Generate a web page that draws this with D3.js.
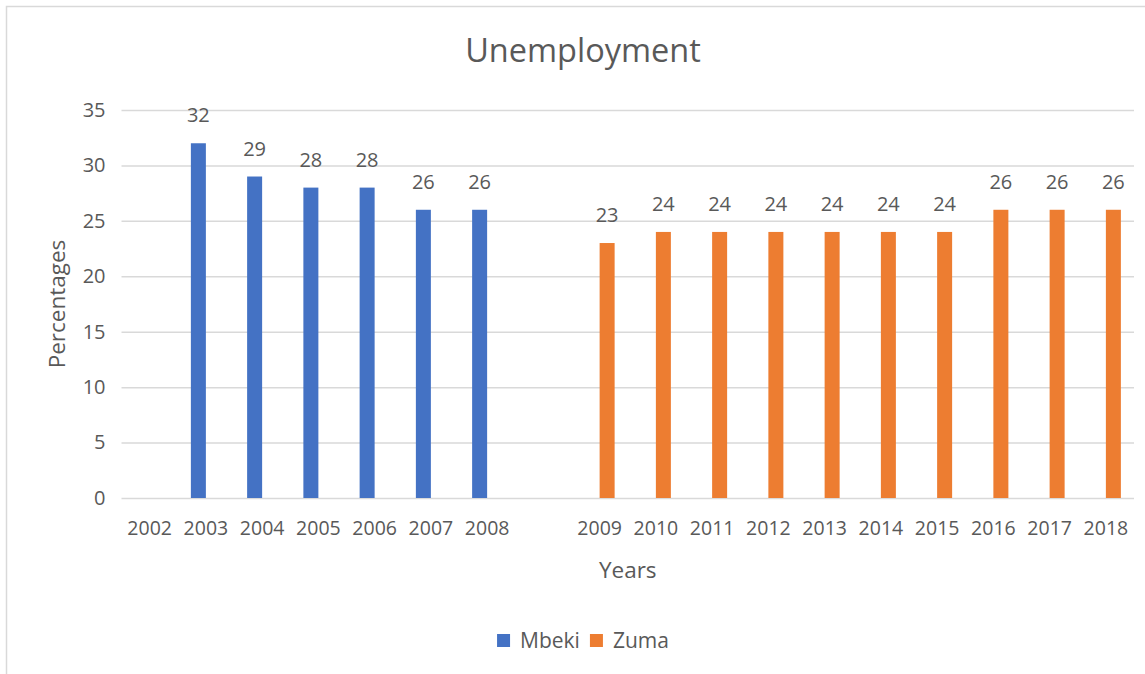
<!DOCTYPE html>
<html>
<head>
<meta charset="utf-8">
<script src="https://cdn.jsdelivr.net/npm/d3@7"></script>
<style>
  html, body { margin: 0; padding: 0; background: #ffffff; }
  svg { display: block; }
  text { font-family: "Open Sans", "Noto Sans", sans-serif; fill: #595959; }
</style>
</head>
<body>
<svg id="chart" width="1145" height="674"></svg>
<script>
// Categories along the x axis (an empty slot separates the two presidencies)
const categories = ["2002", "2003", "2004", "2005", "2006", "2007", "2008", "",
  "2009", "2010", "2011", "2012", "2013", "2014", "2015", "2016", "2017", "2018"];

// Unemployment rate (%) per year for each series
const mbekiValues = [null, 32, 29, 28, 28, 26, 26, null,
  null, null, null, null, null, null, null, null, null, null];
const zumaValues = [null, null, null, null, null, null, null, null,
  23, 24, 24, 24, 24, 24, 24, 26, 26, 26];

const seriesNames = ["Mbeki", "Zuma"];
const seriesColors = ["#4472C4", "#ED7D31"];
const yTicks = [0, 5, 10, 15, 20, 25, 30, 35];

const svg = d3.select("#chart");

// Chart area frame
svg.append("rect")
  .attr("x", 6.5).attr("y", 6.5)
  .attr("width", 1160).attr("height", 700)
  .attr("fill", "#ffffff")
  .attr("stroke", "#d9d9d9")
  .attr("stroke-width", 1.5);

const plot = { left: 121.5, right: 1134, top: 110, bottom: 498 };

const x = d3.scaleBand()
  .domain(categories)
  .range([plot.left, plot.right])
  .paddingInner(0).paddingOuter(0);

const y = d3.scaleLinear()
  .domain([0, 35])
  .range([plot.bottom, plot.top]);

const barWidth = 15;
const sub = d3.scaleBand()
  .domain(seriesNames)
  .range([0, barWidth * 2]);

// Horizontal gridlines and y tick labels
const yAxis = d3.axisLeft(y)
  .tickValues(yTicks)
  .tickSize(-(plot.right - plot.left))
  .tickPadding(16)
  .tickFormat(d3.format("d"));

const gy = svg.append("g")
  .attr("transform", `translate(${plot.left},0)`)
  .call(yAxis);
gy.select(".domain").remove();
gy.selectAll(".tick line")
  .attr("stroke", "#d9d9d9")
  .attr("stroke-width", 1.5);
gy.selectAll(".tick text")
  .attr("font-size", 20)
  .attr("fill", "#595959")
  .style("font-family", "'Open Sans', sans-serif");

// Category labels under the axis
const xAxis = d3.axisBottom(x).tickSize(0).tickPadding(23);
const gx = svg.append("g")
  .attr("transform", `translate(0,${plot.bottom})`)
  .call(xAxis);
gx.select(".domain").remove();
gx.selectAll(".tick text")
  .attr("font-size", 19.5)
  .attr("fill", "#595959")
  .style("font-family", "'Open Sans', sans-serif");

// Bars and value labels for each series
const series = [mbekiValues, zumaValues];
series.forEach((vals, si) => {
  const rows = categories.map((c, i) => ({ cat: c, v: vals[i] }))
    .filter(d => d.v !== null);
  const offset = x.bandwidth() / 2 - barWidth + sub(seriesNames[si]);

  svg.append("g").selectAll("rect")
    .data(rows)
    .join("rect")
    .attr("x", d => x(d.cat) + offset)
    .attr("y", d => y(d.v))
    .attr("width", barWidth)
    .attr("height", d => y(0) - y(d.v))
    .attr("fill", seriesColors[si]);

  svg.append("g").selectAll("text")
    .data(rows)
    .join("text")
    .attr("x", d => x(d.cat) + offset + barWidth / 2)
    .attr("y", d => y(d.v) - 21)
    .attr("text-anchor", "middle")
    .attr("font-size", 20)
    .attr("fill", "#404040")
    .text(d => d.v);
});

// Title
svg.append("text")
  .attr("x", 583).attr("y", 62)
  .attr("text-anchor", "middle")
  .attr("font-size", 32.5)
  .text("Unemployment");

// Axis titles
svg.append("text")
  .attr("x", (plot.left + plot.right) / 2).attr("y", 578)
  .attr("text-anchor", "middle")
  .attr("font-size", 22.5)
  .text("Years");

svg.append("text")
  .attr("transform", `translate(65,${(plot.top + plot.bottom) / 2}) rotate(-90)`)
  .attr("text-anchor", "middle")
  .attr("font-size", 22.5)
  .text("Percentages");

// Legend, centred under the chart
const legend = svg.append("g");
let lx = 0;
seriesNames.forEach((name, i) => {
  const item = legend.append("g").attr("transform", `translate(${lx},0)`);
  item.append("rect")
    .attr("x", 0).attr("y", -14)
    .attr("width", 13).attr("height", 13)
    .attr("fill", seriesColors[i]);
  const t = item.append("text")
    .attr("x", 23).attr("y", 0)
    .attr("font-size", 21)
    .text(name);
  lx += 23 + t.node().getComputedTextLength() + 10;
});
const legendWidth = lx - 10;
legend.attr("transform", `translate(${583 - legendWidth / 2},648)`);
</script>
</body>
</html>
